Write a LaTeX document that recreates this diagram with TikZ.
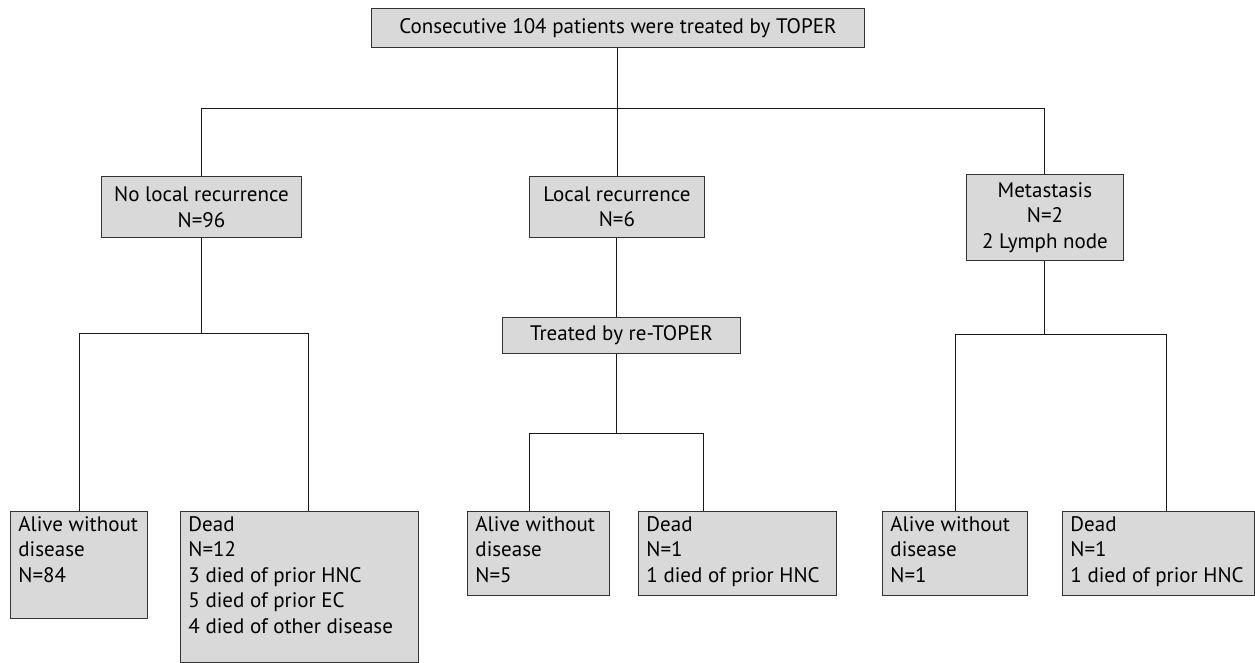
\documentclass[tikz,border=0pt]{standalone}
\usepackage{fontspec}
\setmainfont{PT Sans}
\usetikzlibrary{calc}

\newcommand{\celltext}[3]{\parbox[c][#2][t]{#1}{\raggedright #3}}

\begin{document}
\begin{tikzpicture}[x=1pt,y=-1pt,semithick,
	every node/.style={font=\fontsize{21}{25.5}\selectfont},
	box/.style={draw=black!80,fill=black!15,line width=0.9pt,anchor=north west},
	cbox/.style={box,align=center,inner sep=0pt},
	lbox/.style={box,inner xsep=8pt,inner ysep=5pt},
	link/.style={draw=black!90,line width=1pt}]
		\useasboundingbox (0,0) rectangle (1255,663);

		\node[cbox,minimum width=493pt,minimum height=39pt] (n1) at (371,8) {Consecutive 104 patients were treated by TOPER};
		\node[cbox,minimum width=200pt,minimum height=61pt] (n2) at (101,176) {No local recurrence\\N=96};
		\node[cbox,minimum width=175pt,minimum height=61pt] (n3) at (529,176) {Local recurrence\\N=6};
		\node[cbox,minimum width=157pt,minimum height=86pt] (n4) at (966,174) {Metastasis\\N=2\\2 Lymph node};
		\node[cbox,minimum width=238pt,minimum height=36pt] (n5) at (502,317) {Treated by re-TOPER};

		\node[lbox] (n6) at (10,511) {\celltext{121pt}{97pt}{Alive without\\disease\\N=84}};
		\node[lbox] (n7) at (180,511) {\celltext{222pt}{141pt}{Dead\\N=12\\3 died of prior HNC\\5 died of prior EC\\4 died of other disease}};
		\node[lbox] (n8) at (467,511) {\celltext{126pt}{74pt}{Alive without\\disease\\N=5}};
		\node[lbox] (n9) at (638,511) {\celltext{182pt}{74pt}{Dead\\N=1\\1 died of prior HNC}};
		\node[lbox] (n10) at (882,511) {\celltext{129pt}{74pt}{Alive without\\disease\\N=1}};
		\node[lbox] (n11) at (1062,511) {\celltext{176pt}{74pt}{Dead\\N=1\\1 died of prior HNC}};

		% elbows of the branches
		\coordinate (c1) at (617,109);
		\coordinate (e1) at (79,333);
		\coordinate (e2) at (308,333);
		\coordinate (e3) at (529,433);
		\coordinate (e4) at (703,433);
		\coordinate (e5) at (955,334);
		\coordinate (e6) at (1166,334);

		\path[link] (n1.south) -- (n1.south |- n3.north);
		\path[link] (n2.north) -- (n2.north |- c1) -- (n4.north |- c1) -- (n4.north);

		\path[link] (n2.south) -- (n2.south |- e1);
		\path[link] (e1 |- n6.north) -- (e1) -- (e2) -- (e2 |- n7.north);

		\path[link] (n3.south) -- (n3.south |- n5.north);
		\path[link] (n5.south -| n3.south) -- (n3.south |- e3);
		\path[link] (e3 |- n8.north) -- (e3) -- (e4) -- (e4 |- n9.north);

		\path[link] (n4.south) -- (n4.south |- e5);
		\path[link] (e5 |- n10.north) -- (e5) -- (e6) -- (e6 |- n11.north);
		\end{tikzpicture}
\end{document}
